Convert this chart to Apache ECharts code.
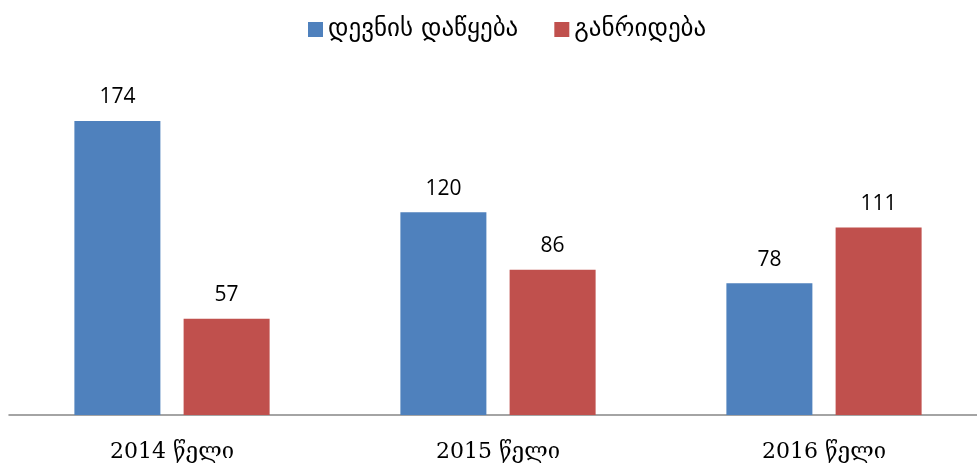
<!DOCTYPE html>
<html>
<head>
<meta charset="utf-8">
<script src="https://cdn.jsdelivr.net/npm/echarts@6/dist/echarts.min.js"></script>
<style>
  html, body { margin: 0; padding: 0; background: #fff; overflow: hidden; }
  #main { width: 990px; height: 469px; }
</style>
</head>
<body>
<div id="main"></div>
<script>
var categories = ['2014 წელი', '2015 წელი', '2016 წელი'];
var seriesNames = ['დევნის დაწყება', 'განრიდება'];
var prosecution = [174, 120, 78];
var diversion = [57, 86, 111];

var chart = echarts.init(document.getElementById('main'));
var labelStyle = {
    show: true,
    position: 'top',
    distance: 13,
    color: '#000',
    fontSize: 21,
    fontFamily: 'Open Sans'
};
chart.setOption({
    animation: false,
    legend: {
        top: 12,
        left: 303,
        itemWidth: 15,
        itemHeight: 15,
        itemGap: 36,
        icon: 'rect',
        textStyle: { fontSize: 25, color: '#000', fontFamily: 'DejaVu Sans' },
        data: seriesNames
    },
    grid: { left: 9, right: 3, top: 77, bottom: 54 },
    xAxis: {
        type: 'category',
        data: categories,
        axisLine: { lineStyle: { color: '#868686', width: 1.5 } },
        axisTick: { show: false },
        axisLabel: { margin: 26, fontSize: 22, color: '#000', fontFamily: 'DejaVu Serif' }
    },
    yAxis: {
        type: 'value',
        min: 0,
        max: 200,
        show: false,
        splitLine: { show: false }
    },
    series: [
        {
            name: seriesNames[0],
            type: 'bar',
            data: prosecution,
            barWidth: 86,
            barGap: '27%',
            itemStyle: { color: '#4F81BD' },
            label: labelStyle
        },
        {
            name: seriesNames[1],
            type: 'bar',
            data: diversion,
            barWidth: 86,
            itemStyle: { color: '#C0504D' },
            label: labelStyle
        }
    ]
});
</script>
</body>
</html>
